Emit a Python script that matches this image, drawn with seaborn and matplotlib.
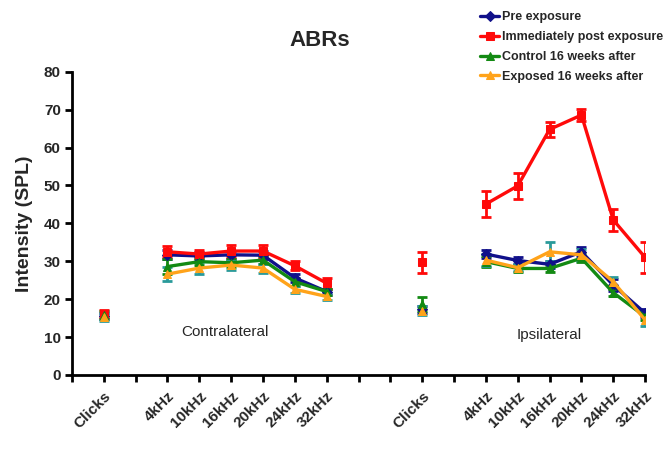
import numpy as np
import pandas as pd
import matplotlib
matplotlib.use('Agg')
import matplotlib.pyplot as plt
import matplotlib.transforms as mtransforms
import seaborn as sns

# categories (x-axis)
stimuli = ['Clicks', '4kHz', '10kHz', '16kHz', '20kHz', '24kHz', '32kHz']
series = ['Pre exposure', 'Immediately post exposure',
          'Control 16 weeks after', 'Exposed 16 weeks after']

# mean thresholds, contralateral ear (Clicks, 4..32 kHz)
pre_contra = [15.5, 31.7, 31.4, 31.7, 31.6, 25.6, 22.0]
post_contra = [16.2, 32.5, 31.9, 32.7, 32.7, 28.8, 24.2]
ctrl_contra = [15.8, 28.6, 29.9, 29.6, 30.3, 24.6, 22.0]
exp_contra = [15.2, 26.6, 28.2, 29.0, 28.2, 22.6, 20.7]

# mean thresholds, ipsilateral ear
pre_ipsi = [17.3, 31.9, 30.2, 29.2, 32.5, 23.7, 16.3]
post_ipsi = [29.7, 45.1, 49.9, 64.8, 68.6, 40.9, 31.0]
ctrl_ipsi = [18.8, 29.9, 28.1, 28.1, 30.8, 21.7, 15.4]
exp_ipsi = [17.0, 30.3, 28.3, 32.5, 31.7, 24.6, 14.5]

# standard errors
pre_contra_err = [0.8, 1.2, 1.0, 1.0, 1.0, 1.0, 0.8]
post_contra_err = [1.0, 1.5, 1.0, 1.5, 1.5, 1.2, 1.5]
ctrl_contra_err = [1.0, 2.0, 1.0, 1.0, 1.0, 1.0, 0.8]
exp_contra_err = [1.0, 1.8, 1.5, 1.2, 1.2, 1.0, 0.8]
pre_ipsi_err = [1.0, 1.0, 1.0, 1.0, 1.2, 1.5, 1.0]
post_ipsi_err = [2.8, 3.5, 3.4, 1.9, 1.6, 3.0, 4.0]
ctrl_ipsi_err = [1.8, 1.5, 1.0, 1.0, 1.0, 1.0, 1.0]
exp_ipsi_err = [1.2, 1.5, 1.0, 2.5, 1.5, 1.2, 1.5]

means = {
    series[0]: (pre_contra, pre_ipsi),
    series[1]: (post_contra, post_ipsi),
    series[2]: (ctrl_contra, ctrl_ipsi),
    series[3]: (exp_contra, exp_ipsi),
}
errs = {
    series[0]: (pre_contra_err, pre_ipsi_err),
    series[1]: (post_contra_err, post_ipsi_err),
    series[2]: (ctrl_contra_err, ctrl_ipsi_err),
    series[3]: (exp_contra_err, exp_ipsi_err),
}

# layout: Clicks sits apart from the frequency sweep, two blocks side by side
contra_pos = [1, 3, 4, 5, 6, 7, 8]
ipsi_pos = [11, 13, 14, 15, 16, 17, 18]

colors = {series[0]: '#10108a', series[1]: '#ff0a0a',
          series[2]: '#138a13', series[3]: '#ffa31a'}
err_colors = {series[0]: '#10108a', series[1]: '#ff0a0a',
              series[2]: '#138a13', series[3]: '#2a9a9a'}
markers = {series[0]: 'D', series[1]: 's', series[2]: '^', series[3]: '^'}

rows = []
for s in series:
    for side, pos in zip(['contra', 'ipsi'], [contra_pos, ipsi_pos]):
        k = 0 if side == 'contra' else 1
        for i, st in enumerate(stimuli):
            seg = 'click' if st == 'Clicks' else 'freq'
            rows.append({'series': s, 'side': side, 'stim': st, 'x': pos[i],
                         'y': means[s][k][i], 'err': errs[s][k][i],
                         'unit': side + '_' + seg})
df = pd.DataFrame(rows)

sns.set_style('white')
plt.rcParams['font.family'] = ['Liberation Sans', 'DejaVu Sans']

fig = plt.figure(figsize=(6.72, 4.49), dpi=100)
ax = fig.add_axes([0.107, 0.165, 0.853, 0.675])

for s in series:
    d = df[df['series'] == s]
    ax.errorbar(d['x'], d['y'], yerr=d['err'], fmt='none', ecolor=err_colors[s],
                elinewidth=2, capsize=3.5, capthick=2, zorder=2)
    for u, g in d.groupby('unit'):
        sns.lineplot(data=g, x='x', y='y', color=colors[s], marker=markers[s],
                     markersize=5.5, markeredgecolor=colors[s], linewidth=2.4,
                     ax=ax, zorder=3, label=s if u == 'contra_freq' else None)

ax.set_xlim(0, 18)
ax.set_ylim(0, 80)
ax.set_yticks(range(0, 81, 10))
ax.set_xticks(range(0, 19))
xlabels = [''] * 19
for i, st in enumerate(stimuli):
    xlabels[contra_pos[i]] = st
    xlabels[ipsi_pos[i]] = st
ax.set_xticklabels(xlabels, rotation=45, ha='right', rotation_mode='anchor',
                   fontsize=11, fontweight='bold')
# nudge the slanted labels a little to the left, as in the original
shift = mtransforms.ScaledTranslation(-4 / 72, 0, fig.dpi_scale_trans)
for t in ax.get_xticklabels():
    t.set_transform(t.get_transform() + shift)
for t in ax.get_yticklabels():
    t.set_fontsize(11)
    t.set_fontweight('bold')
ax.tick_params(axis='both', direction='out', length=5, width=2, color='black',
               bottom=True, left=True, pad=3)
ax.tick_params(axis='x', pad=5)
for side in ['top', 'right']:
    ax.spines[side].set_visible(False)
for side in ['left', 'bottom']:
    ax.spines[side].set_linewidth(2)
    ax.spines[side].set_color('black')

ax.set_xlabel('')
ax.set_ylabel('Intensity (SPL)', fontsize=14, fontweight='bold', labelpad=8)

ax.text(4.8, 11.3, 'Contralateral', fontsize=11, ha='center', va='center')
ax.text(15.0, 10.5, 'Ipsilateral', fontsize=11, ha='center', va='center')

fig.text(0.476, 0.91, 'ABRs', fontsize=16, fontweight='bold', ha='center', va='center')

ax.legend(loc='upper left', bbox_to_anchor=(0.702, 0.994), bbox_transform=fig.transFigure,
          frameon=False, prop={'weight': 'bold', 'size': 9}, handlelength=1.5,
          handletextpad=0.2, labelspacing=0.62, borderaxespad=0.3)

fig.savefig('out.png', dpi=100)
